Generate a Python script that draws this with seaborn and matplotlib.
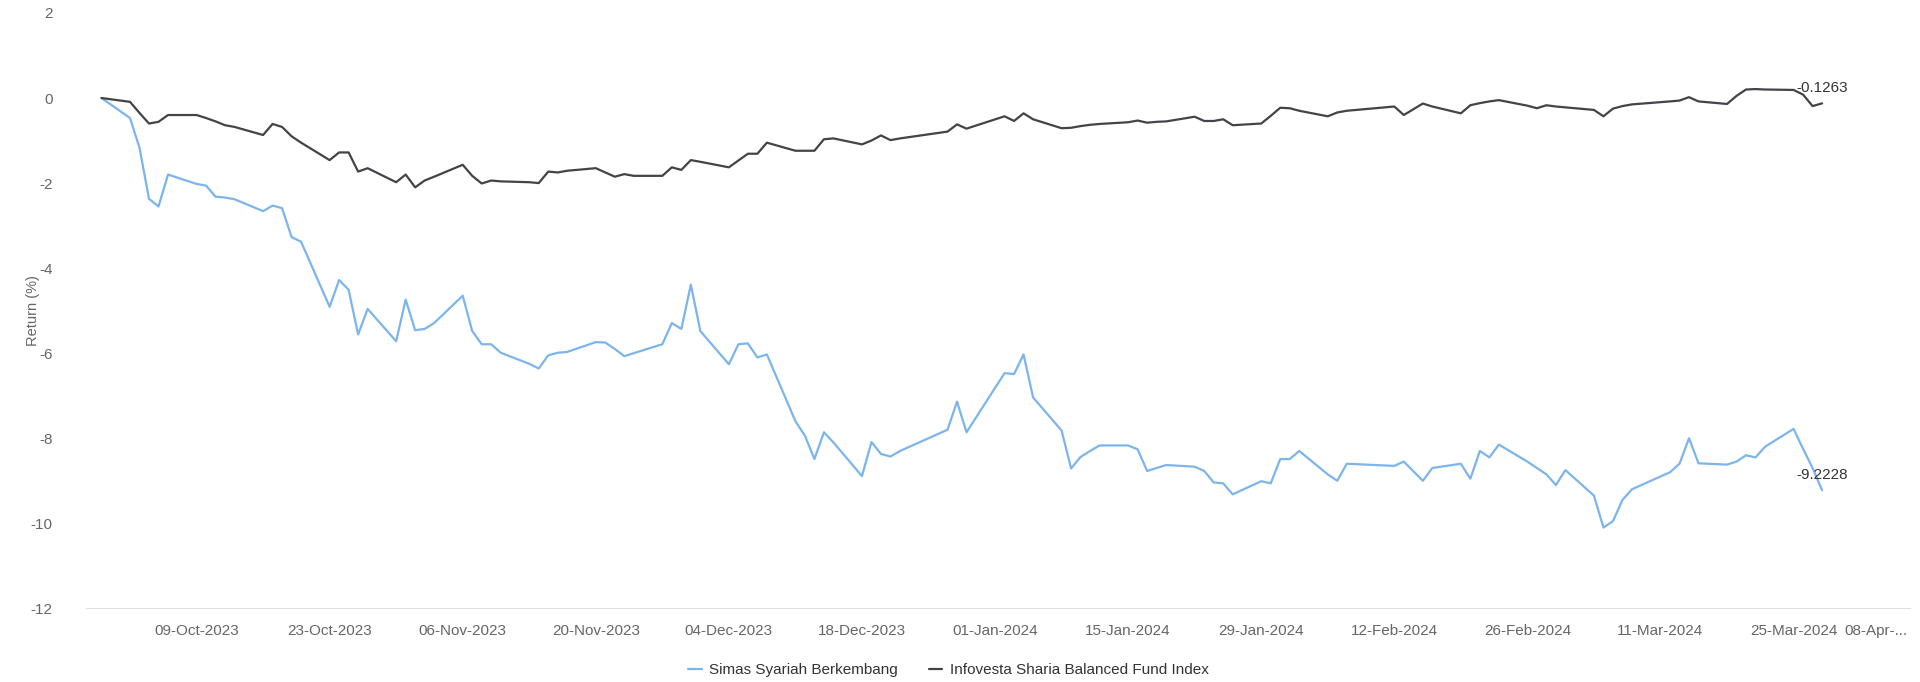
import pandas as pd
import matplotlib
matplotlib.use("Agg")
import matplotlib.pyplot as plt
from matplotlib.lines import Line2D
import seaborn as sns

# trading days shown on the chart
dates = [
    "2023-09-29", "2023-10-02", "2023-10-03", "2023-10-04", "2023-10-05", "2023-10-06",
    "2023-10-09", "2023-10-10", "2023-10-11", "2023-10-12", "2023-10-13", "2023-10-16",
    "2023-10-17", "2023-10-18", "2023-10-19", "2023-10-20", "2023-10-23", "2023-10-24",
    "2023-10-25", "2023-10-26", "2023-10-27", "2023-10-30", "2023-10-31",
    "2023-11-01", "2023-11-02", "2023-11-03", "2023-11-06", "2023-11-07", "2023-11-08",
    "2023-11-09", "2023-11-10", "2023-11-13", "2023-11-14", "2023-11-15", "2023-11-16",
    "2023-11-17", "2023-11-20", "2023-11-21", "2023-11-22", "2023-11-23", "2023-11-24",
    "2023-11-27", "2023-11-28", "2023-11-29", "2023-11-30",
    "2023-12-01", "2023-12-04", "2023-12-05", "2023-12-06", "2023-12-07", "2023-12-08",
    "2023-12-11", "2023-12-12", "2023-12-13", "2023-12-14", "2023-12-15", "2023-12-18",
    "2023-12-19", "2023-12-20", "2023-12-21", "2023-12-22", "2023-12-27", "2023-12-28",
    "2023-12-29",
    "2024-01-02", "2024-01-03", "2024-01-04", "2024-01-05", "2024-01-08", "2024-01-09",
    "2024-01-10", "2024-01-11", "2024-01-12", "2024-01-15", "2024-01-16", "2024-01-17",
    "2024-01-18", "2024-01-19", "2024-01-22", "2024-01-23", "2024-01-24", "2024-01-25",
    "2024-01-26", "2024-01-29", "2024-01-30", "2024-01-31",
    "2024-02-01", "2024-02-02", "2024-02-05", "2024-02-06", "2024-02-07", "2024-02-12",
    "2024-02-13", "2024-02-15", "2024-02-16", "2024-02-19", "2024-02-20", "2024-02-21",
    "2024-02-22", "2024-02-23", "2024-02-26", "2024-02-27", "2024-02-28", "2024-02-29",
    "2024-03-01", "2024-03-04", "2024-03-05", "2024-03-06", "2024-03-07", "2024-03-08",
    "2024-03-12", "2024-03-13", "2024-03-14", "2024-03-15", "2024-03-18", "2024-03-19",
    "2024-03-20", "2024-03-21", "2024-03-22", "2024-03-25", "2024-03-26", "2024-03-27",
    "2024-03-28",
]

fund_name = "Simas Syariah Berkembang"
fund_return = [
    0.00, -0.47, -1.17, -2.37, -2.55, -1.80, -2.02, -2.06, -2.32, -2.34, -2.38, -2.66,
    -2.53, -2.59, -3.27, -3.38, -4.91, -4.28, -4.51, -5.56, -4.96, -5.72, -4.74,
    -5.46, -5.43, -5.29, -4.65, -5.48, -5.79, -5.79, -5.99, -6.25, -6.36, -6.05, -5.99,
    -5.97, -5.74, -5.75, -5.90, -6.07, -6.00, -5.79, -5.29, -5.43, -4.39,
    -5.48, -6.26, -5.79, -5.77, -6.10, -6.03, -7.60, -7.94, -8.49, -7.86, -8.10, -8.89,
    -8.09, -8.37, -8.43, -8.30, -7.80, -7.14, -7.86,
    -6.47, -6.49, -6.03, -7.04, -7.82, -8.71, -8.44, -8.30, -8.17, -8.17, -8.26, -8.77,
    -8.70, -8.63, -8.67, -8.77, -9.04, -9.06, -9.32, -9.01, -9.06, -8.49,
    -8.49, -8.30, -8.85, -9.00, -8.60, -8.65, -8.55, -9.00, -8.70, -8.60, -8.95, -8.30,
    -8.45, -8.15, -8.55, -8.70, -8.85, -9.10,
    -8.75, -9.35, -10.10, -9.95, -9.45, -9.20, -8.80, -8.60, -8.00, -8.59, -8.62, -8.55,
    -8.40, -8.45, -8.20, -7.78, -8.25, -8.70, -9.2228,
]

index_name = "Infovesta Sharia Balanced Fund Index"
index_return = [
    0.00, -0.09, -0.35, -0.60, -0.56, -0.40, -0.40, -0.47, -0.55, -0.64, -0.68, -0.87,
    -0.61, -0.68, -0.90, -1.05, -1.46, -1.28, -1.28, -1.73, -1.65, -1.98, -1.80,
    -2.10, -1.94, -1.85, -1.57, -1.83, -2.01, -1.94, -1.96, -1.98, -2.00, -1.73, -1.75,
    -1.71, -1.65, -1.75, -1.85, -1.79, -1.83, -1.83, -1.63, -1.69, -1.46,
    -1.50, -1.63, -1.47, -1.31, -1.31, -1.05, -1.24, -1.24, -1.24, -0.97, -0.95, -1.09,
    -1.00, -0.88, -0.99, -0.95, -0.79, -0.62, -0.72,
    -0.43, -0.54, -0.36, -0.50, -0.71, -0.70, -0.66, -0.63, -0.61, -0.57, -0.53, -0.58,
    -0.56, -0.55, -0.44, -0.54, -0.54, -0.50, -0.64, -0.60, -0.42, -0.23,
    -0.24, -0.30, -0.43, -0.34, -0.30, -0.20, -0.40, -0.13, -0.20, -0.36, -0.17, -0.12,
    -0.08, -0.05, -0.18, -0.24, -0.17, -0.20,
    -0.22, -0.28, -0.43, -0.25, -0.19, -0.15, -0.08, -0.06, 0.02, -0.08, -0.14, 0.05,
    0.20, 0.21, 0.20, 0.19, 0.08, -0.19, -0.1263,
]

tick_dates = pd.date_range("2023-10-09", "2024-03-25", freq="14D")
last_tick_label = "08-Apr-..."

if __name__ == "__main__":
    n = len(dates)
    df = pd.DataFrame({
        "Date": pd.to_datetime(dates + dates),
        "Return": fund_return + index_return,
        "Series": [fund_name] * n + [index_name] * n,
    })
    colors = ["#7cb5ec", "#434348"]

    sns.set_style("white")
    plt.rcParams["font.family"] = ["Liberation Sans", "DejaVu Sans"]
    plt.rcParams["axes.unicode_minus"] = False

    fig = plt.figure(figsize=(19.2, 6.82), dpi=100)
    ax = fig.add_axes([0.0448, 0.108, 0.95, 0.873])
    sns.lineplot(data=df, x="Date", y="Return", hue="Series", palette=colors,
                 estimator=None, linewidth=1.6, legend=False, ax=ax)

    ax.set_xlim(pd.Timestamp("2023-09-27 09:00"), pd.Timestamp("2024-04-06 06:00"))
    ax.set_ylim(-12, 2)
    ax.set_yticks(range(-12, 3, 2))
    ax.set_xticks(tick_dates)
    ax.set_xticklabels([d.strftime("%d-%b-%Y") for d in tick_dates])

    for side in ["top", "right", "left"]:
        ax.spines[side].set_visible(False)
    ax.spines["bottom"].set_color("#dcdfe6")
    ax.tick_params(axis="x", length=7, color="#dcdfe6", labelcolor="#666666",
                   labelsize=11, pad=4)
    ax.tick_params(axis="y", length=0, labelcolor="#666666", labelsize=11, pad=24)

    ax.annotate(last_tick_label, xy=(1, 0), xycoords="axes fraction",
                xytext=(-2, -11), textcoords="offset points", ha="right", va="top",
                fontsize=11, color="#666666")

    ax.set_xlabel("")
    ax.set_ylabel("Return (%)", fontsize=10.5, color="#666666")
    ax.yaxis.set_label_coords(-0.025, 0.5)

    # end-of-period values
    last_date = pd.Timestamp(dates[-1])
    for val in [fund_return[-1], index_return[-1]]:
        ax.annotate(f"{val}", xy=(last_date, val), xytext=(0, 11),
                    textcoords="offset points", ha="center", va="center",
                    fontsize=11, color="#333333")

    handles = [Line2D([0], [0], color=c, lw=1.6) for c in colors]
    fig.legend(handles, [fund_name, index_name], loc="center",
               bbox_to_anchor=(0.494, 0.017), ncol=2, frameon=False, fontsize=11,
               handlelength=0.9, handletextpad=0.5, columnspacing=2.0,
               labelcolor="#333333")

    fig.savefig("out.png", dpi=100)
